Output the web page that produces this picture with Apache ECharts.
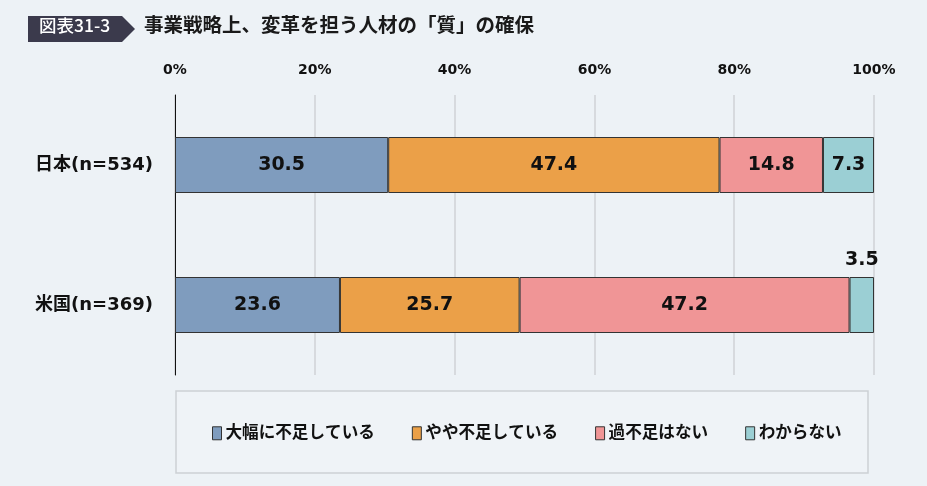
<!DOCTYPE html>
<html><head><meta charset="utf-8">
<script src="https://cdn.jsdelivr.net/npm/echarts@6/dist/echarts.min.js"></script>
<style>html,body{margin:0;padding:0;background:#edf2f6;}#c{width:927px;height:486px;}</style>
</head><body><div id="c"></div>
<script>
const categories = ['日本(n=534)', '米国(n=369)'];
const seriesNames = ['大幅に不足している', 'やや不足している', '過不足はない', 'わからない'];
const valuesLargeShortage = [30.5, 23.6];
const valuesSomeShortage = [47.4, 25.7];
const valuesNoShortage = [14.8, 47.2];
const valuesUnknown = [7.3, 3.5];
const xTicks = [0, 20, 40, 60, 80, 100];
const colors = ['#7f9cbe', '#eba048', '#f09596', '#9bcfd4'];
const allValues = [valuesLargeShortage, valuesSomeShortage, valuesNoShortage, valuesUnknown];

const FONT = '"DejaVu Sans", "Noto Sans CJK JP", sans-serif';
const chart = echarts.init(document.getElementById('c'));
const series = allValues.map((vals, i) => ({
  name: seriesNames[i],
  type: 'bar',
  stack: 'total',
  barWidth: 56,
  itemStyle: { color: colors[i], borderColor: '#333', borderWidth: 1 },
  label: { show: true, position: 'inside', fontFamily: FONT, fontWeight: 'bold', fontSize: 19, color: '#111',
           formatter: p => p.value.toFixed(1) },
  data: vals.map(v => v < 5 ? { value: v, label: { position: 'top', distance: 7 } } : v)
}));

chart.setOption({
  backgroundColor: '#edf2f6',
  animation: false,
  grid: { left: 175, right: 53, top: 95, bottom: 111 },
  xAxis: {
    type: 'value', position: 'top', min: 0, max: 100, interval: 20,
    axisLine: { show: false }, axisTick: { show: false },
    splitLine: { show: true, lineStyle: { color: '#cfd2d6', width: 1.5 } },
    axisLabel: { margin: 18, fontFamily: FONT, fontWeight: 'bold', fontSize: 14, color: '#111',
                 formatter: v => xTicks.includes(v) ? v + '%' : '' }
  },
  yAxis: {
    type: 'category', data: categories, inverse: true,
    axisLine: { show: true, lineStyle: { color: '#111', width: 1 } },
    axisTick: { show: false },
    axisLabel: { margin: 22, fontFamily: FONT, fontWeight: 'bold', fontSize: 18, color: '#111' }
  },
  legend: {
    data: seriesNames, left: 207, top: 420, itemGap: 37, itemWidth: 9, itemHeight: 13,
    icon: 'rect',
    itemStyle: { borderColor: '#333', borderWidth: 1 },
    textStyle: { fontFamily: FONT, fontWeight: 'bold', fontSize: 16.6, color: '#111', padding: [0, 0, 0, -1] }
  },
  graphic: [
    { type: 'rect', z: -1, shape: { x: 176, y: 391, width: 692, height: 82 },
      style: { fill: '#eff3f7', stroke: '#cdd1d5', lineWidth: 1.5 } },
    { type: 'polygon', shape: { points: [[28,16],[122,16],[135,29],[122,42],[28,42]] },
      style: { fill: '#3b3a4c' } },
    { type: 'text', left: 39, top: 17, style: { text: '図表31-3', fill: '#fff', font: '500 17.5px "Noto Sans CJK JP", sans-serif' } },
    { type: 'text', left: 144, top: 15, style: { text: '事業戦略上、変革を担う人材の「質」の確保', fill: '#1a1a1a', font: 'bold 19.5px "Noto Sans CJK JP", sans-serif' } }
  ],
  series: series
});
</script></body></html>
